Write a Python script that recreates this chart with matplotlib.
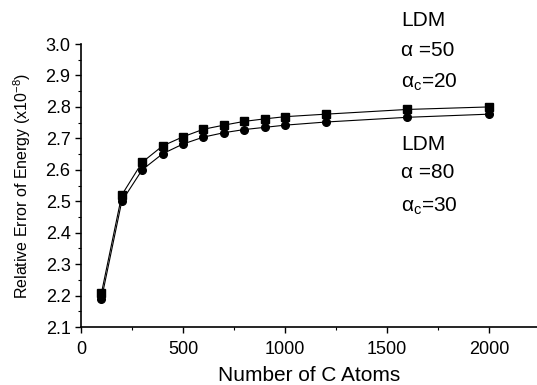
import matplotlib.pyplot as plt
from matplotlib.ticker import MultipleLocator

plt.rcParams['font.family'] = ['Liberation Sans', 'DejaVu Sans']
plt.rcParams['mathtext.fontset'] = 'custom'
plt.rcParams['mathtext.rm'] = 'Liberation Sans'
plt.rcParams['mathtext.it'] = 'Liberation Sans'

# data
n_atoms = [100, 200, 300, 400, 500, 600, 700, 800, 900, 1000, 1200, 1600, 2000]
err_a50 = [2.207, 2.52, 2.624, 2.676, 2.705, 2.729, 2.742, 2.754, 2.762, 2.769, 2.777, 2.792, 2.800]
err_a80 = [2.188, 2.50, 2.600, 2.651, 2.682, 2.704, 2.718, 2.728, 2.735, 2.742, 2.752, 2.767, 2.777]

fig = plt.figure(figsize=(5.37, 3.85), dpi=100)
ax = fig.add_axes([0.1508, 0.1506, 0.8492, 0.735])

ax.plot(n_atoms, err_a50, color='black', lw=0.8, marker='s', ms=6)
ax.plot(n_atoms, err_a80, color='black', lw=0.8, marker='o', ms=5.5)

ax.set_xlim(0, 2235)
ax.set_ylim(2.1, 3.0)
ax.xaxis.set_major_locator(MultipleLocator(500))
ax.xaxis.set_minor_locator(MultipleLocator(250))
ax.yaxis.set_major_locator(MultipleLocator(0.1))
ax.yaxis.set_minor_locator(MultipleLocator(0.05))
ax.yaxis.set_major_formatter(plt.FormatStrFormatter('%.1f'))
ax.tick_params(which='major', direction='out', length=4, width=1, labelsize=13)
ax.tick_params(axis='x', which='major', pad=6)
ax.tick_params(which='minor', direction='out', length=2.5, width=0.8)

ax.spines['top'].set_visible(False)
ax.spines['right'].set_visible(False)
for s in ['left', 'bottom']:
    ax.spines[s].set_linewidth(1.2)

ax.set_xlabel('Number of C Atoms', fontsize=15, labelpad=6)
ax.set_ylabel('Relative Error of Energy (x10$^{-8}$)', fontsize=11.5, labelpad=9)

# annotations
tx = 1569
fs = 15
ax.text(tx, 3.074, 'LDM', fontsize=fs, va='center', clip_on=False)
ax.text(tx, 2.981, 'α =50', fontsize=fs, va='center', clip_on=False)
ax.text(tx, 2.879, 'α$_{\\rm c}$=20', fontsize=fs, va='center', clip_on=False)
ax.text(tx, 2.682, 'LDM', fontsize=fs, va='center')
ax.text(tx, 2.591, 'α =80', fontsize=fs, va='center')
ax.text(tx, 2.485, 'α$_{\\rm c}$=30', fontsize=fs, va='center')

fig.savefig('out.png', dpi=100)
